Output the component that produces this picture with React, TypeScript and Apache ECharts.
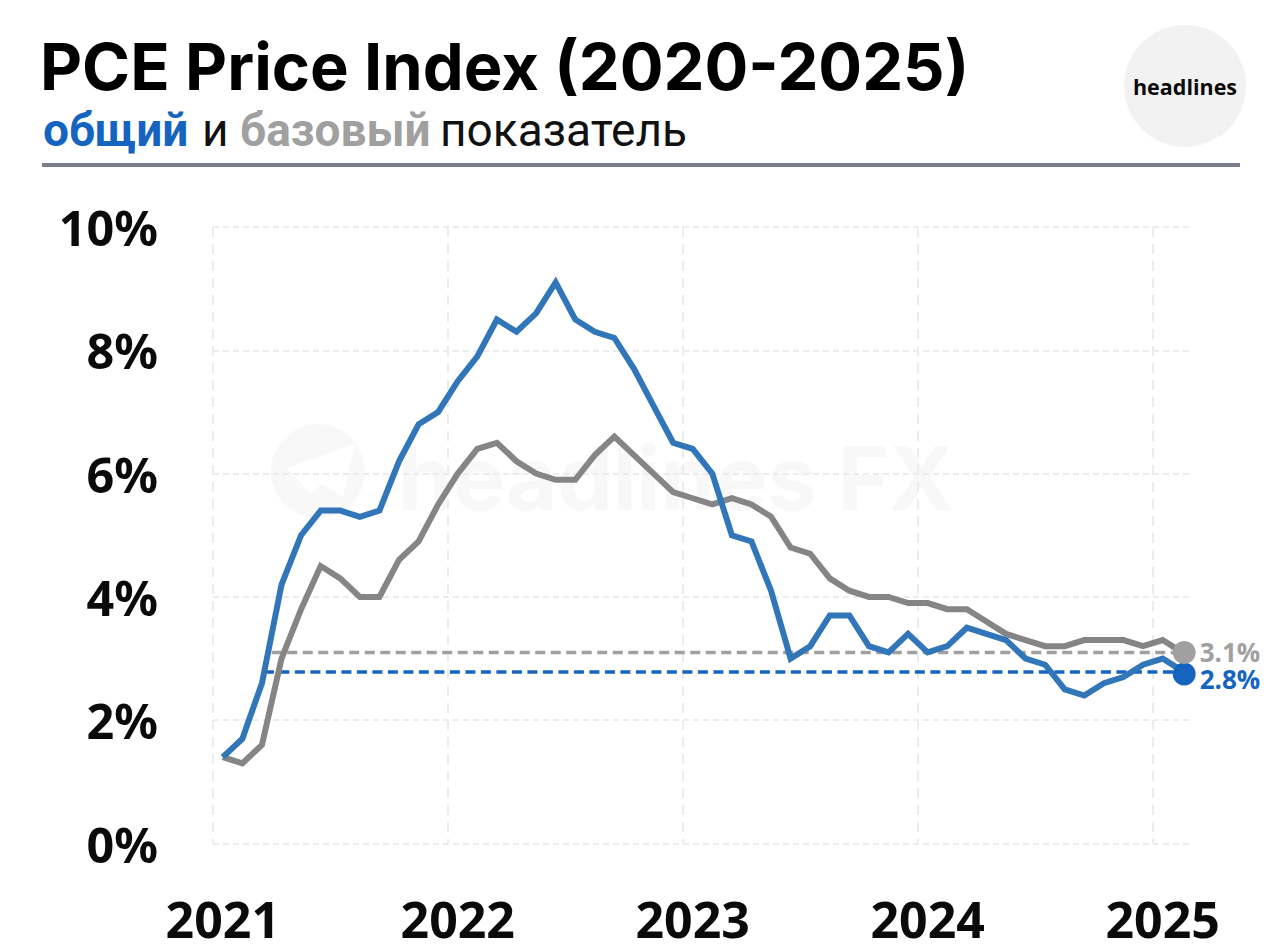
import React, { useEffect, useRef } from "react";
import * as echarts from "echarts";

const years = ["2021", "2022", "2023", "2024", "2025"];
const months = ["01", "02", "03", "04", "05", "06", "07", "08", "09", "10", "11", "12"];
const categories = years.flatMap((y) => months.map((m) => `${y}-${m}`)).slice(0, 50);

const headline = [
  1.4, 1.7, 2.6, 4.2, 5.0, 5.4, 5.4, 5.3, 5.4, 6.2, 6.8, 7.0,
  7.5, 7.9, 8.5, 8.3, 8.6, 9.1, 8.5, 8.3, 8.2, 7.7, 7.1, 6.5,
  6.4, 6.0, 5.0, 4.9, 4.1, 3.0, 3.2, 3.7, 3.7, 3.2, 3.1, 3.4,
  3.1, 3.2, 3.5, 3.4, 3.3, 3.0, 2.9, 2.5, 2.4, 2.6, 2.7, 2.9,
  3.0, 2.8,
];
const core = [
  1.4, 1.3, 1.6, 3.0, 3.8, 4.5, 4.3, 4.0, 4.0, 4.6, 4.9, 5.5,
  6.0, 6.4, 6.5, 6.2, 6.0, 5.9, 5.9, 6.3, 6.6, 6.3, 6.0, 5.7,
  5.6, 5.5, 5.6, 5.5, 5.3, 4.8, 4.7, 4.3, 4.1, 4.0, 4.0, 3.9,
  3.9, 3.8, 3.8, 3.6, 3.4, 3.3, 3.2, 3.2, 3.3, 3.3, 3.3, 3.2,
  3.3, 3.1,
];
const coreRef: [number, number][] = [[3.0, 3.1], [49.6, 3.1]];
const headlineRef: [number, number][] = [[2.6, 2.78], [49.6, 2.78]];
const coreDot: [number, number][] = [[49.6, 3.1]];
const headlineDot: [number, number][] = [[49.6, 2.75]];

const BLUE_LINE = "#3176b8";
const GRAY_LINE = "#858585";
const BLUE = "#1565c0";
const GRAY = "#a0a0a0";
const GRID = "#ececec";
const INK = "#0a0a0a";

export default function App() {
  const ref = useRef<HTMLDivElement>(null);
  useEffect(() => {
    document.body.style.margin = "0";
    const chart = echarts.init(ref.current!, null, { renderer: "svg" });
    const sub = (text: string, x: number, fill: string, weight: number) => ({
      type: "text", x, y: 130,
      style: { text, fill, font: `${weight} 46px Roboto`, textVerticalAlign: "middle" },
    });
    chart.setOption({
      animation: false,
      backgroundColor: "#fff",
      graphic: [
        { type: "circle", silent: true, z: 0, shape: { cx: 318, cy: 471, r: 47 }, style: { fill: "#f8f8f8" } },
        { type: "polygon", silent: true, z: 0, shape: { points: [[287, 468], [355, 444], [343, 497], [322, 484], [310, 494]] }, style: { fill: "#ffffff" } },
        { type: "text", silent: true, z: 0, x: 398, y: 478, style: { text: "headlines FX", fill: "#f8f8f8", font: "700 88px Inter", textVerticalAlign: "middle" } },
        { type: "text", x: 40, y: 66, style: { text: "PCE Price Index (2020-2025)", fill: "#000", font: "700 65px Inter", textVerticalAlign: "middle" } },
        sub("общий", 43, BLUE, 700),
        sub("и", 202, "#111", 400),
        sub("базовый", 240, GRAY, 700),
        sub("показатель", 440, "#111", 400),
        { type: "rect", shape: { x: 42, y: 163, width: 1198, height: 4 }, style: { fill: "#7b7d8c" } },
        { type: "circle", shape: { cx: 1185, cy: 86, r: 61 }, style: { fill: "#f2f2f2" } },
        { type: "text", x: 1185, y: 86, style: { text: "headlines", fill: INK, font: "700 21.5px 'Open Sans'", textAlign: "center", textVerticalAlign: "middle" } },
      ],
      grid: { left: 213, right: 88, top: 227, bottom: 107.5 },
      xAxis: [
        {
          type: "category",
          data: categories,
          boundaryGap: true,
          axisLine: { show: false },
          axisTick: { show: false },
          axisLabel: {
            interval: 11,
            margin: 50,
            hideOverlap: false,
            formatter: (v: string) => v.slice(0, 4),
            color: INK,
            fontFamily: "Noto Sans",
            fontWeight: 700,
            fontSize: 50,
            lineHeight: 50,
          },
          splitLine: { show: true, interval: 11, showMaxLine: false, lineStyle: { color: GRID, type: [10, 7], width: 2 } },
        },
        { type: "value", min: 0, max: 50, show: false, splitLine: { show: false } },
      ],
      yAxis: {
        type: "value",
        min: 0,
        max: 10,
        interval: 2,
        axisLine: { show: false },
        axisTick: { show: false },
        axisLabel: {
          formatter: "{value}%",
          margin: 55,
          color: INK,
          fontFamily: "Noto Sans",
          fontWeight: 700,
          fontSize: 48.5,
          padding: [0, 0, 6, 0],
        },
        splitLine: { lineStyle: { color: GRID, type: [6, 4], width: 2 } },
      },
      series: [
        {
          name: "Core ref", type: "line", xAxisIndex: 1, data: coreRef, symbol: "none", z: 3,
          lineStyle: { color: GRAY, width: 3.5, type: [10, 5.5] },
        },
        {
          name: "Headline ref", type: "line", xAxisIndex: 1, data: headlineRef, symbol: "none", z: 3,
          lineStyle: { color: BLUE, width: 3.5, type: [10, 5.5] },
        },
        {
          name: "Core", type: "line", data: core, symbol: "none", z: 4,
          lineStyle: { color: GRAY_LINE, width: 6, join: "miter" },
        },
        {
          name: "Headline", type: "line", data: headline, symbol: "none", z: 5,
          lineStyle: { color: BLUE_LINE, width: 6, join: "miter" },
        },
        {
          name: "Headline end", type: "scatter", xAxisIndex: 1, data: headlineDot, symbolSize: 23, z: 6,
          itemStyle: { color: BLUE, opacity: 1 },
          label: { show: true, position: "right", distance: 4, offset: [0, 5], formatter: "2.8%", color: BLUE, fontFamily: "Open Sans", fontWeight: 700, fontSize: 26, lineHeight: 24 },
        },
        {
          name: "Core end", type: "scatter", xAxisIndex: 1, data: coreDot, symbolSize: 23, z: 7,
          itemStyle: { color: GRAY, opacity: 1 },
          label: { show: true, position: "right", distance: 4, formatter: "3.1%", color: GRAY, fontFamily: "Open Sans", fontWeight: 700, fontSize: 26, lineHeight: 24 },
        },
      ],
    });
    return () => chart.dispose();
  }, []);
  return <div ref={ref} style={{ position: "absolute", left: 0, top: 0, width: 1280, height: 951 }} />;
}
